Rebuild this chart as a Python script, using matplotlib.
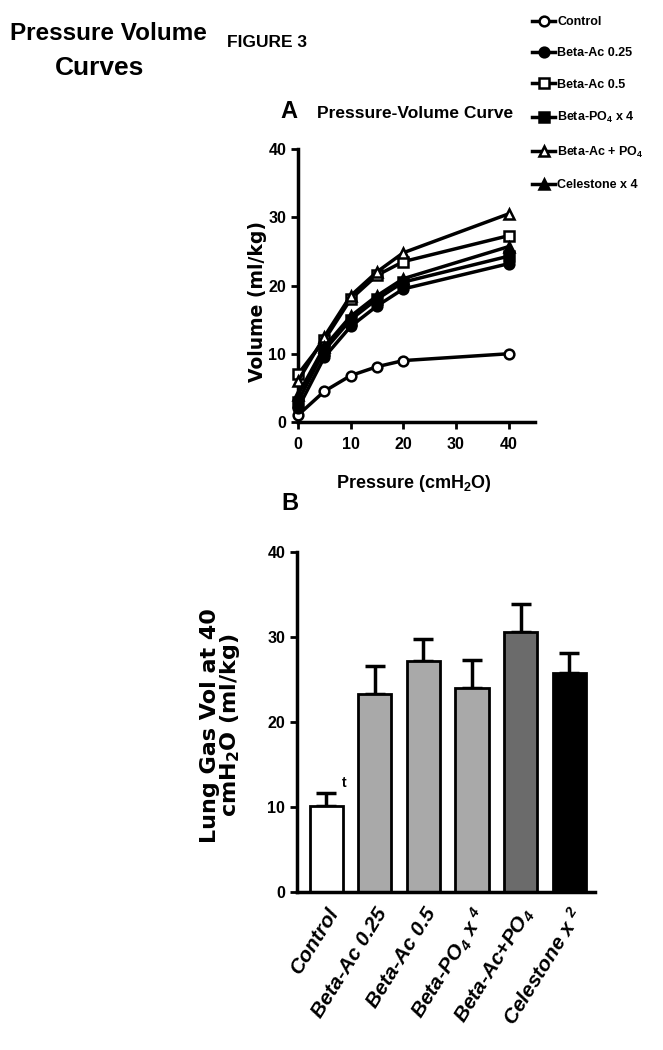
import numpy as np
import matplotlib
matplotlib.use("Agg")
import matplotlib.pyplot as plt

plt.rcParams['font.family'] = ['Liberation Sans', 'DejaVu Sans']
plt.rcParams['font.weight'] = 'bold'
plt.rcParams['mathtext.default'] = 'regular'

# === Panel A data: pressure-volume curves ===
pressure = [0, 5, 10, 15, 20, 40]
control = [1.0, 4.5, 6.8, 8.1, 9.0, 10.0]
beta_ac_025 = [2.0, 9.5, 14.0, 17.0, 19.5, 23.2]
beta_ac_05 = [7.0, 12.0, 18.0, 21.5, 23.5, 27.3]
beta_po4 = [3.0, 10.5, 15.0, 18.0, 20.5, 24.3]
beta_ac_po4 = [6.0, 12.5, 18.5, 22.0, 24.8, 30.5]
celestone = [4.0, 11.0, 15.5, 18.5, 21.0, 25.7]

curve_labels = ["Control", "Beta-Ac 0.25", "Beta-Ac 0.5",
                "Beta-PO$_4$ x 4", "Beta-Ac + PO$_4$", "Celestone x 4"]

# === Panel B data: lung gas volume at 40 cmH2O ===
groups = ["Control", "Beta-Ac 0.25", "Beta-Ac 0.5", "Beta-PO$_4$ x $^4$",
          "Beta-Ac+PO$_4$", "Celestone x $^2$"]
vol40 = [10.1, 23.3, 27.2, 24.0, 30.6, 25.8]
vol40_err = [1.5, 3.3, 2.6, 3.3, 3.3, 2.3]
bar_colors = ["white", "#a9a9a9", "#a9a9a9", "#a9a9a9", "#6b6b6b", "black"]

W, H = 663, 1050
fig = plt.figure(figsize=(W / 100, H / 100), dpi=100)


def fx(px):
    return px / W


def fy(py):
    return 1 - py / H


# titles
fig.text(fx(108), fy(40), "Pressure Volume", ha='center', va='baseline',
         fontsize=17.5, fontweight='bold')
fig.text(fx(100), fy(75), "Curves", ha='center', va='baseline',
         fontsize=19, fontweight='bold')
fig.text(fx(267), fy(47), "FIGURE 3", ha='center', va='baseline',
         fontsize=12.5, fontweight='bold')
fig.text(fx(289), fy(118), "A", ha='center', va='baseline',
         fontsize=17, fontweight='bold')
fig.text(fx(415), fy(118), "Pressure-Volume Curve", ha='center', va='baseline',
         fontsize=12.5, fontweight='bold')
fig.text(fx(290), fy(510), "B", ha='center', va='baseline',
         fontsize=17, fontweight='bold')

# === Panel A ===
axA = fig.add_axes([fx(298), fy(422), fx(535) - fx(298), fy(149) - fy(422)])
series = [control, beta_ac_025, beta_ac_05, beta_po4, beta_ac_po4, celestone]
markers = ['o', 'o', 's', 's', '^', '^']
faces = ['white', 'black', 'white', 'black', 'white', 'black']
handles = []
for vals, mk, fc, lab in zip(series, markers, faces, curve_labels):
    h, = axA.plot(pressure, vals, color='black', lw=2.5, marker=mk,
                  markersize=7, markerfacecolor=fc, markeredgecolor='black',
                  markeredgewidth=1.8, clip_on=False, label=lab, zorder=3)
    handles.append(h)

axA.set_xlim(0, 45)
axA.set_ylim(0, 40)
axA.set_xticks([0, 10, 20, 30, 40])
axA.set_yticks([0, 10, 20, 30, 40])
axA.set_xlabel("Pressure (cmH$_2$O)", fontsize=13, fontweight='bold', va='top')
axA.xaxis.set_label_coords(0.49, -0.185)
axA.set_ylabel("Volume (ml/kg)", family='DejaVu Sans', fontsize=13.5,
               fontweight='bold')
axA.yaxis.set_label_coords(-0.13, 0.44)

fig.legend(handles=handles, labels=curve_labels, loc='upper left',
           bbox_to_anchor=(fx(532), fy(16)), frameon=False, fontsize=9,
           handlelength=1.85, handletextpad=0.15, labelspacing=1.55,
           borderaxespad=0, borderpad=0)

# === Panel B ===
axB = fig.add_axes([fx(297), fy(892), fx(595) - fx(297), fy(552) - fy(892)])
xpos = np.arange(len(groups))
axB.bar(xpos, vol40, width=0.68, color=bar_colors, edgecolor='black',
        linewidth=2, zorder=2)
axB.errorbar(xpos, vol40, yerr=[np.zeros(len(vol40)), vol40_err], fmt='none',
             ecolor='black', elinewidth=2.5, capsize=7, capthick=2.5, zorder=1)
axB.text(xpos[0] + 0.38, vol40[0] + vol40_err[0] + 0.4, "t", fontsize=10,
         fontweight='bold', ha='center', va='bottom')

axB.set_xlim(-0.6, 5.53)
axB.set_ylim(0, 40)
axB.set_yticks([0, 10, 20, 30, 40])
axB.set_xticks(xpos)
axB.set_ylabel("Lung Gas Vol at 40\ncmH$_2$O (ml/kg)", family='DejaVu Sans',
               fontsize=16, fontweight='bold', linespacing=0.9)
axB.yaxis.set_label_coords(-0.185, 0.49)

for ax in (axA, axB):
    for s in ('top', 'right'):
        ax.spines[s].set_visible(False)
    for s in ('left', 'bottom'):
        ax.spines[s].set_linewidth(2.5)
    ax.tick_params(width=2, length=5, labelsize=11.5)
    for t in ax.get_yticklabels():
        t.set_fontweight('bold')
    ax.set_facecolor('none')
axA.tick_params(axis='x', pad=6)
for t in axA.get_xticklabels():
    t.set_fontweight('bold')

axB.tick_params(axis='x', length=0, pad=9)
axB.set_xticklabels(groups, rotation=58, ha='right', va='top',
                    rotation_mode='anchor', fontsize=15, fontweight='bold',
                    fontstyle='italic')

fig.savefig("out.png", dpi=100)
